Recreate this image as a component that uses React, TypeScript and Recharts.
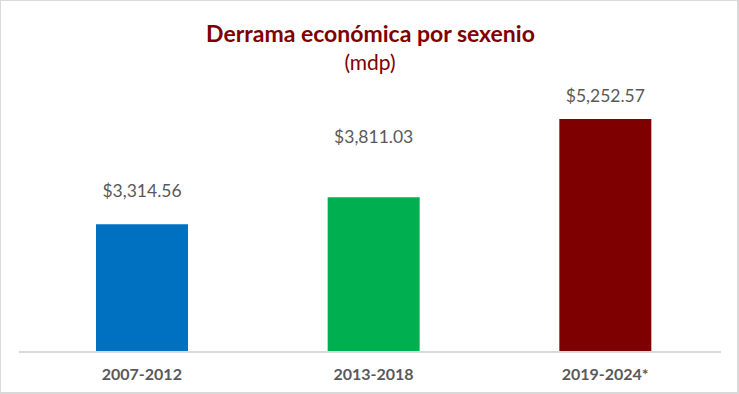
import React from 'react';
import { BarChart, Bar, XAxis, YAxis, Cell, LabelList } from 'recharts';

const categories = ['2007-2012', '2013-2018', '2019-2024*'];
const values = [3314.56, 3811.03, 5252.57];
const valueLabels = ['$3,314.56', '$3,811.03', '$5,252.57'];
const colors = ['#0070C0', '#00B050', '#7F0000'];

const title = 'Derrama económica por sexenio';
const subtitle = '(mdp)';

const data = categories.map((c, i) => ({ name: c, value: values[i], label: valueLabels[i] }));

// vertical gap between each bar top and its value label baseline
const labelGap = [27, 54, 17];

const W = 739;
const H = 394;

const ValueLabel = (props: any) => {
  const { x, y, width, index } = props;
  return (
    <text
      x={x + width / 2}
      y={y - labelGap[index]}
      textAnchor="middle"
      fontFamily="Lato"
      fontSize={17.5}
      fill="#595959"
    >
      {valueLabels[index]}
    </text>
  );
};

const CatTick = (props: any) => {
  const { x, y, payload } = props;
  return (
    <text x={x} y={y + 20} textAnchor="middle" fontFamily="Lato" fontWeight="bold" fontSize={16} fill="#595959">
      {payload.value}
    </text>
  );
};

export default function App() {
  return (
    <div style={{ position: 'absolute', left: 0, top: 0, width: W, height: H, background: '#fff' }}>
      <div style={{ position: 'absolute', left: 0, top: 0 }}>
        <BarChart width={W} height={H} data={data} margin={{ top: 100, right: 18, bottom: 0, left: 19 }}>
          <YAxis hide type="number" domain={[963, 5602]} allowDataOverflow />
          <XAxis
            dataKey="name"
            height={42}
            padding={{ left: 7, right: 0 }}
            axisLine={{ stroke: '#D9D9D9', strokeWidth: 2 }}
            tickLine={false}
            tick={<CatTick />}
            interval={0}
          />
          <Bar dataKey="value" barSize={92} isAnimationActive={false}>
            {data.map((d, i) => (
              <Cell key={d.name} fill={colors[i]} />
            ))}
            <LabelList dataKey="label" content={<ValueLabel />} />
          </Bar>
        </BarChart>
      </div>
      <svg width={W} height={H} style={{ position: 'absolute', left: 0, top: 0, pointerEvents: 'none' }}>
        <text x={370.5} y={41.5} textAnchor="middle" fontFamily="Lato" fontWeight="bold" fontSize={23} fill="#7F0000">
          {title}
        </text>
        <text x={370} y={70} textAnchor="middle" fontFamily="Lato" fontSize={21} fill="#7F0000">
          {subtitle}
        </text>
      </svg>
      <div
        style={{
          position: 'absolute',
          left: 0,
          top: 0,
          width: W,
          height: H,
          boxSizing: 'border-box',
          borderTop: '1px solid #D9D9D9',
          borderLeft: '1px solid #D9D9D9',
          borderRight: '2px solid #D9D9D9',
          borderBottom: '2px solid #D9D9D9',
          pointerEvents: 'none',
        }}
      />
    </div>
  );
}
